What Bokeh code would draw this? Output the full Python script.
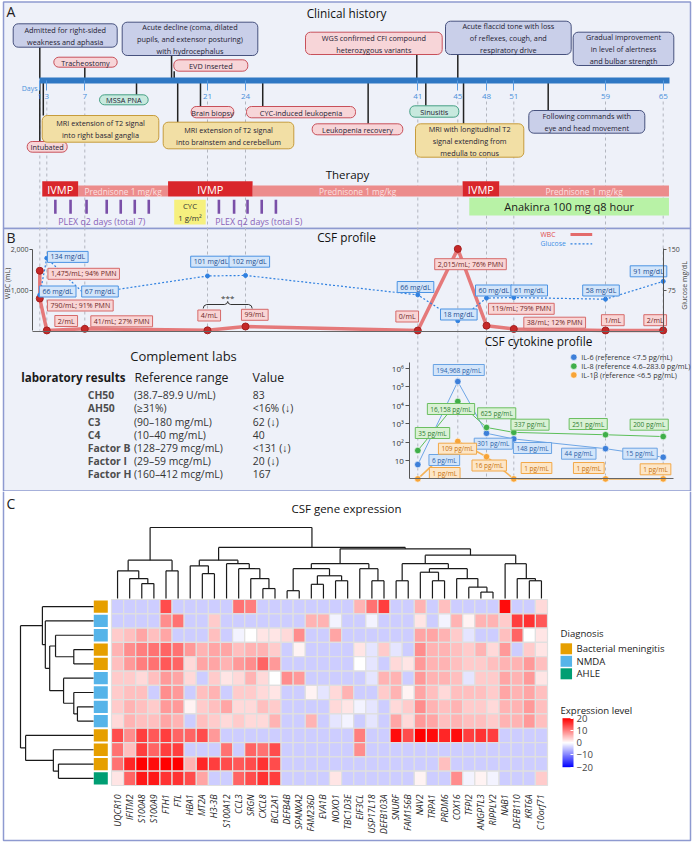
import numpy as np
from bokeh.plotting import figure
from bokeh.models import (Range1d, LinearAxis, LogScale, FixedTicker, NumeralTickFormatter,
                          LinearColorMapper, ColorBar, ColumnDataSource)
from bokeh.layouts import column
from bokeh.embed import file_html
from bokeh.resources import INLINE
from bokeh.core.properties import value

FONT = "Open Sans"

# ============================ DATA ============================
TICK_DAYS = [1, 3, 7, 21, 24, 41, 45, 48, 51, 59, 65]

EVENT_TEXT = [
    "Admitted for right-sided\nweakness and aphasia",
    "Acute decline (coma, dilated\npupils, and extensor posturing)\nwith hydrocephalus",
    "Tracheostomy",
    "EVD inserted",
    "WGS confirmed CFI compound\nheterozygous variants",
    "Acute flaccid tone with loss\nof reflexes, cough, and\nrespiratory drive",
    "Gradual improvement\nin level of alertness\nand bulbar strength",
    "Intubated",
    "MRI extension of T2 signal\ninto right basal ganglia",
    "MSSA PNA",
    "Brain biopsy",
    "MRI extension of T2 signal\ninto brainstem and cerebellum",
    "CYC-induced leukopenia",
    "Leukopenia recovery",
    "Sinusitis",
    "MRI with longitudinal T2\nsignal extending from\nmedulla to conus",
    "Following commands with\neye and head movement",
]
EVENT_DAY = [1, 16.9, 7, 17.2, 40.9, 45, None, 1, 2, 12.9, 20.2, 17.6, 25.7, 36.1, 41.8, 45.6, 54]
EVENT_KIND = ["clinical", "clinical", "procedure", "procedure", "procedure", "clinical", "clinical",
              "procedure", "imaging", "infection", "procedure", "imaging", "procedure", "procedure",
              "infection", "imaging", "clinical"]

IVMP_START = [1.7, 16.5, 45.5]
IVMP_END = [6.3, 24.7, 49.4]
PRED_START = [6.3, 24.7, 49.4]
PRED_END = [16.5, 45.5, 65.6]
ANAKINRA = [46.2, 65.6]
CYC = [17.2, 20.8]
PLEX_1 = [3.9, 5.5, 7.2, 9.5, 11.1, 12.7, 14.3]
PLEX_2 = [21.9, 23.1, 24.2, 25.6, 27.0]

WBC_DAY = [1, 1, 3, 7, 21, 24, 41, 45, 48, 51, 59, 65]
WBC = [1475, 790, 2, 41, 4, 99, 0, 2015, 119, 38, 1, 2]
WBC_LABEL = ["1,475/mL; 94% PMN", "790/mL; 91% PMN", "2/mL", "41/mL; 27% PMN", "4/mL", "99/mL",
             "0/mL", "2,015/mL; 76% PMN", "119/mL; 79% PMN", "38/mL; 12% PMN", "1/mL", "2/mL"]
GLU_DAY = [1, 3, 7, 21, 24, 41, 45, 48, 51, 59, 65]
GLU = [66, 134, 67, 101, 102, 66, 18, 60, 61, 58, 91]

CYTO_DAY = [41, 45, 48, 51, 59, 65]
IL6 = [6, 194968, 301, 148, 44, 15]
IL8 = [35, 16158, 625, 337, 251, 200]
IL1B = [1, 109, 16, 1, 1, 1]
CYTO_NAMES = ["IL-6 (reference <7.5 pg/mL)", "IL-8 (reference 4.6\u2013283.0 pg/mL)",
              "IL-1\u03b2 (reference <6.5 pg/mL)"]

COMP_NAMES = ["CH50", "AH50", "C3", "C4", "Factor B", "Factor I", "Factor H"]
COMP_RANGES = ["(38.7\u201389.9 U/mL)", "(\u226531%)", "(90\u2013180 mg/mL)", "(10\u201340 mg/mL)",
               "(128\u2013279 mcg/mL)", "(29\u201359 mcg/mL)", "(160\u2013412 mcg/mL)"]
COMP_VALUES = ["83", "<16% (\u2193)", "62 (\u2193)", "40", "<131 (\u2193)", "20 (\u2193)", "167"]

GENES = ["UQCR10", "IFITM2", "S100A8", "S100A9", "FTH1", "FTL", "HBA1", "MT2A", "H3-3B", "S100A12",
         "CCL3", "SRGN", "CXCL8", "BCL2A1", "DEFB4B", "SPANXA2", "FAM236D", "EVA1B", "NOXO1",
         "TBC1D3E", "EIF3CL", "USP17L18", "DEFB103A", "SNURF", "FAM156B", "NAV2", "TRPA1", "PRDM6",
         "COX16", "TFPI2", "ANGPTL3", "RIPPLY2", "NAB1", "DEFB110", "KRT6A", "C10orf71"]
DIAGNOSIS = ["Bacterial meningitis", "NMDA", "NMDA", "Bacterial meningitis", "Bacterial meningitis",
             "NMDA", "NMDA", "NMDA", "NMDA", "Bacterial meningitis", "Bacterial meningitis",
             "Bacterial meningitis", "AHLE"]
DIAG_NAMES = ["Bacterial meningitis", "NMDA", "AHLE"]
DIAG_COLORS = ["#e69f00", "#56b4e9", "#009e73"]

L = -4
EXPR = [
    [L, L, L, L, 14, L, L, L, L, L, 11, 10, L, L, L, L, L, L, L, L, 6, 11, 15, L, L, 6, L, 5, L, L, L, L, 19, L, L, 3],
    [L, L, L, L, 9, 11, L, L, 4, L, L, L, L, L, L, L, 6, 6, -1, L, L, -1, L, L, L, 2, L, -1, 6, 1, 6, 6, 4, 15, 16, 13],
    [4, 5, 7, 5, 7, L, L, L, 5, L, -1, 0, 2, 2, 3, 9, L, L, 7, L, L, L, L, L, L, 7, 7, 6, 4, -2, L, L, 5, 12, 0, 2],
    [6, 9, 10, 11, 12, 11, 8, 6, 7, 7, 5, 6, 6, 4, L, 1, L, L, L, L, 2, -2, 4, -2, L, 9, 6, 6, 5, 4, 6, 3, 8, L, 4, 2],
    [5, 8, 10, 11, 13, 12, 3, 7, 7, 6, 8, 9, 12, 8, L, L, L, L, L, L, 0, -2, L, 3, 2, 8, 6, 6, 5, 4, 4, 5, 6, 6, 8, 5],
    [4, 4, 3, 5, 8, 7, 3, L, 4, 2, 3, 6, 3, 0, 9, 8, L, L, L, L, L, -2, 6, 6, L, 8, 6, 6, 5, -2, 4, 4, 7, 6, 8, 2],
    [4, 5, 5, L, 9, 8, L, 5, 6, L, 4, 4, 3, 2, L, L, 1, -2, 3, 6, L, L, 4, 6, 1, 7, 5, 3, 5, 5, 5, 4, 7, 6, 7, 5],
    [4, 6, 5, 4, 8, 8, 1, 4, 5, 7, 3, 3, 5, 4, L, L, L, L, 3, 2, -1, -2, L, 3, 4, 9, 6, 5, 6, 4, 4, 3, 6, 6, 8, 5],
    [3, 6, 5, 5, 7, 6, L, 5, 4, 3, 4, 3, 3, 6, L, L, 6, L, -2, -1, L, -2, L, 7, 3, 8, 7, 5, 6, 5, 5, 4, 6, 6, 8, 5],
    [14, 9, 15, 13, 15, 12, 12, 14, 8, L, L, L, L, L, L, L, L, L, L, L, 10, L, L, 19, 14, 20, 19, 17, 19, 15, 16, 15, L, L, L, L],
    [11, 5, 15, 12, 15, 15, L, L, L, 11, L, 12, 11, 14, L, L, L, L, L, L, 9, L, L, L, L, L, L, L, L, L, L, L, L, L, L, L],
    [11, 17, 20, 19, 20, 20, 6, 17, 15, 14, 13, 14, 16, 14, L, L, L, L, L, L, L, L, L, L, L, L, L, 5, L, L, L, L, L, L, L, L],
    [2, 12, 18, 18, 16, 16, 14, 7, L, L, 12, 14, 16, 15, L, L, L, L, 2, L, L, L, L, L, L, 1, L, L, 9, -1, 1, -1, L, L, L, 4],
]


def N(h, a, b):
    return (h, a, b)


COL_TREE = N(10.0,
             N(5.4, N(3.9, 0, N(2.8, 1, N(2.1, 2, 3))), N(3.9, 4, 5)),
             N(7.2,
               N(5.4, N(4.6, 6, N(3.5, 7, 8)), N(4.9, 9, N(4.2, 10, N(2.8, 11, N(1.4, 12, 13))))),
               N(7.0,
                 N(4.9, N(4.2, N(1.1, 14, 15), N(3.2, N(2.0, 16, 17), N(2.5, 18, 19))),
                   N(4.2, 20, N(2.5, 21, 22))),
                 N(6.1,
                   N(4.9, N(2.5, 23, 24),
                     N(4.2, N(3.7, 25, N(2.5, 26, 27)), N(2.8, 28, N(1.6, 29, N(0.9, 30, 31))))),
                   N(4.9, 32, N(2.8, 33, N(2.5, 34, 35)))))))
ROW_TREE = N(10.0,
             N(7.0, 0, N(6.6, 1, N(6.0, N(5.2, 2, N(2.7, 3, 4)), N(4.1, 5, N(2.7, 6, N(2.2, 7, 8)))))),
             N(9.3, 9, N(5.5, 10, N(4.8, 11, 12))))

# ============================ LAYOUT / STYLE ============================
PAGE_W, PAGE_H = 693, 845
TICK_POS = [39.3, 46.3, 84.3, 207.0, 245.0, 417.3, 457.3, 486.0, 513.3, 605.0, 662.7]
BAR_Y = 80
EVENT_BOX = [(12.7, 116.7, 23.3, 46.7), (121.7, 257.3, 21.7, 55), (53.3, 116.7, 56.7, 66.7),
             (173.3, 247.3, 59.3, 70.7), (305, 441.7, 31.7, 54), (445, 570.7, 20.7, 54),
             (572.7, 673.3, 31.7, 65), (26.7, 66.7, 141, 151.7), (41.7, 158.3, 115, 141.7),
             (99, 147.7, 94.3, 104.3), (190.7, 233.3, 106, 117.3), (162.7, 293.3, 121.7, 148.3),
             (246, 355, 106, 117.3), (311.7, 402.3, 123.3, 134.3), (409.3, 458.3, 105.3, 116.7),
             (415, 523.3, 123.3, 156.7), (528.3, 644.3, 110, 132.7)]
KIND_STYLE = {"clinical": ("#c9cfe9", "#47527e"), "procedure": ("#f7d5d8", "#c8505a"),
              "infection": ("#c7e9de", "#46a085"), "imaging": ("#f2dfa5", "#c69c3c")}

WBC_LABEL_XY = [(83.2, 273.3), (79.8, 305), (65.7, 320.5), (121.2, 320.8), (208.7, 315), (254.3, 314.3),
                (406.7, 316), (470, 263.7), (520.8, 308.3), (554.2, 322.2), (612.3, 319.7), (654.7, 319.7)]
GLU_LABEL_XY = [(57.2, 291), (67.3, 256.4), (99.5, 291), (210.5, 261.2), (248.8, 261.2), (415, 286.5),
                (458.3, 314), (493.3, 290), (528.7, 290), (600.5, 290), (648, 270.8)]
IL6_LABEL_XY = [(443.8, 459.5), (458.3, 369.5), (492.8, 443.2), (532, 447.5), (578.3, 453.2), (639.5, 453.2)]
IL8_LABEL_XY = [(432, 432.5), (450.5, 408.5), (496.2, 412.8), (529.5, 424.2), (587.7, 423.5), (648.7, 424.2)]
IL1B_LABEL_XY = [(444.2, 472.5), (457, 448.2), (488.7, 465), (536, 467.5), (588.3, 467.5), (655, 468.8)]

BG = "#eef1f9"
BORDER = "#8e9ad0"


def dpos(d):
    arr = np.asarray(d, dtype=float)
    p = np.interp(arr, TICK_DAYS, TICK_POS)
    slope = (TICK_POS[-1] - TICK_POS[-2]) / (TICK_DAYS[-1] - TICK_DAYS[-2])
    p = np.where(arr > TICK_DAYS[-1], TICK_POS[-1] + (arr - TICK_DAYS[-1]) * slope, p)
    if np.ndim(p) == 0:
        return float(p)
    return [float(v) for v in p]


def as_list(v):
    if isinstance(v, (list, tuple, np.ndarray)):
        return [float(a) for a in v]
    return [float(v)]


def txt(p, x, y, s, size, color="#222222", align="left", baseline="middle", style="normal",
        angle=0.0, **kw):
    xs, ys = as_list(x), as_list(y)
    ss = [s] if isinstance(s, str) else list(s)
    n = max(len(xs), len(ys), len(ss))
    if len(xs) == 1:
        xs = xs * n
    if len(ys) == 1:
        ys = ys * n
    if len(ss) == 1:
        ss = ss * n
    return p.text(x=xs, y=ys, text=ss, text_font=value(FONT), text_font_size=f"{size}px",
                  text_color=color, text_align=align, text_baseline=baseline,
                  text_font_style=style, angle=angle, **kw)


def qbox(p, x0, x1, y0, y1, fill, line, radius=4, lw=1.0, **kw):
    try:
        p.quad(left=x0, right=x1, bottom=y1, top=y0, fill_color=fill, line_color=line,
               line_width=lw, border_radius=radius, **kw)
    except Exception:
        p.quad(left=x0, right=x1, bottom=y1, top=y0, fill_color=fill, line_color=line,
               line_width=lw, **kw)


def boxed(p, xy, texts, size, fill, line, color, **kw):
    xs = [a for a, b in xy]
    ys = [b for a, b in xy]
    try:
        p.text(x=xs, y=ys, text=texts, text_font=value(FONT), text_font_size=f"{size}px",
               text_color=color, text_align="center", text_baseline="middle",
               background_fill_color=fill, border_line_color=line, border_line_width=1,
               padding=(3, 1), **kw)
    except Exception:
        w = [len(t) * size * 0.52 + 6 for t in texts]
        h = size * 1.2 + 2
        p.quad(left=[x - wi / 2 for x, wi in zip(xs, w)], right=[x + wi / 2 for x, wi in zip(xs, w)],
               bottom=[y + h / 2 for y in ys], top=[y - h / 2 for y in ys],
               fill_color=fill, line_color=line, **kw)
        txt(p, xs, ys, texts, size, color=color, align="center", **kw)


# ============================ PANELS A + B ============================
P1_H = 491
p1 = figure(width=PAGE_W, height=P1_H, x_range=Range1d(0, PAGE_W), y_range=Range1d(P1_H, 0),
            output_backend="svg", toolbar_location=None, x_axis_location=None, y_axis_location=None,
            min_border_left=0, min_border_right=0, min_border_top=0, min_border_bottom=0,
            background_fill_color="white", border_fill_color="white")
p1.outline_line_color = None
p1.grid.grid_line_color = None

WBC_ZERO_Y, WBC_2000_Y = 330.0, 249.0
wpx = (WBC_ZERO_Y - WBC_2000_Y) / 2000.0
gpx = (WBC_ZERO_Y - WBC_2000_Y) / 150.0
CYTO_ONE_Y, DECADE_PX = 478.4, 18.4
p1.extra_y_ranges = {
    "wbc": Range1d((WBC_ZERO_Y - P1_H) / wpx, WBC_ZERO_Y / wpx),
    "glu": Range1d((WBC_ZERO_Y - P1_H) / gpx, WBC_ZERO_Y / gpx),
    "cyto": Range1d(10 ** ((CYTO_ONE_Y - P1_H) / DECADE_PX), 10 ** (CYTO_ONE_Y / DECADE_PX)),
}
p1.extra_y_scales = {"cyto": LogScale()}

# panel frames
p1.quad(left=[3, 3], right=[690, 690], top=[1.5, 228], bottom=[228, 490.5],
        fill_color=BG, line_color=BORDER, line_width=1.5)

# dashed day guides
tick_x = dpos(TICK_DAYS)
p1.segment(x0=tick_x, y0=[101] * len(tick_x), x1=tick_x,
           y1=[478.4 if d >= 41 else 330 for d in TICK_DAYS],
           line_color="#b3b6bf", line_width=1, line_dash="3 3")

txt(p1, 6, 11, "A", 14)
txt(p1, 346, 12, "Clinical history", 11.8, align="center", color="#111111")
txt(p1, 37, 88, "Days", 7, align="right", color="#4a90d9")

# connectors
cx0, cy0, cx1, cy1 = [], [], [], []
for i, d in enumerate(EVENT_DAY):
    if d is None:
        continue
    x0, x1, y0, y1 = EVENT_BOX[i]
    xd = dpos(d)
    if y1 < BAR_Y:
        cx0.append(xd); cy0.append(y1); cx1.append(xd); cy1.append(BAR_Y - 2)
    else:
        cx0.append(xd); cy0.append(BAR_Y + 2); cx1.append(xd); cy1.append(y0)
p1.segment(x0=cx0, y0=cy0, x1=cx1, y1=cy1, line_color="#222222", line_width=1.5)

for i, t in enumerate(EVENT_TEXT):
    x0, x1, y0, y1 = EVENT_BOX[i]
    fill, line = KIND_STYLE[EVENT_KIND[i]]
    qbox(p1, [x0], [x1], [y0], [y1], fill, line, radius=5, lw=1.0)
    txt(p1, (x0 + x1) / 2, (y0 + y1) / 2 + 0.5, t, 7.3, color="#1f2233", align="center")

# timeline axis (the blue bar)
tl = LinearAxis(fixed_location=BAR_Y, bounds=(TICK_POS[0], dpos(65.65)),
                ticker=FixedTicker(ticks=tick_x),
                major_label_overrides={x: str(d) for x, d in zip(tick_x, TICK_DAYS)},
                axis_line_color="#2f78c4", axis_line_width=6, major_tick_in=0, major_tick_out=10,
                major_tick_line_color="#5a9be0", major_tick_line_width=1,
                minor_tick_line_color=None, major_label_standoff=3,
                major_label_text_font=FONT, major_label_text_font_size="8px",
                major_label_text_color="#4a90d9")
p1.add_layout(tl, "below")

# therapy
txt(p1, 347, 174, "Therapy", 11.5, align="center", color="#111111")
p1.quad(left=dpos(PRED_START), right=dpos(PRED_END), top=[185] * 3, bottom=[196] * 3,
        fill_color="#ec8c8c", line_color=None)
p1.quad(left=dpos(IVMP_START), right=dpos(IVMP_END), top=[180.7] * 3, bottom=[196] * 3,
        fill_color="#d9262b", line_color=None)
txt(p1, [(a + b) / 2 for a, b in zip(dpos(IVMP_START), dpos(IVMP_END))], 188.5, "IVMP", 11,
    color="white", align="center")
txt(p1, [(a + b) / 2 for a, b in zip(dpos(PRED_START), dpos(PRED_END))], 190.7,
    "Prednisone 1 mg/kg", 8.3, color="#fbe1e1", align="center")
p1.quad(left=[dpos(ANAKINRA[0])], right=[dpos(ANAKINRA[1])], top=[197.3], bottom=[215],
        fill_color="#b8f2a6", line_color=None)
txt(p1, (dpos(ANAKINRA[0]) + dpos(ANAKINRA[1])) / 2, 206.3, "Anakinra 100 mg q8 hour", 11,
    align="center", color="#1a1a1a")
plex = dpos(PLEX_1 + PLEX_2)
p1.segment(x0=plex, y0=[199.3] * len(plex), x1=plex, y1=[213.3] * len(plex),
           line_color="#7a4fa8", line_width=2.6)
txt(p1, [57.8, 214.7], 221.8, ["PLEX q2 days (total 7)", "PLEX q2 days (total 5)"], 8.8,
    color="#8a62b8")
p1.quad(left=[dpos(CYC[0])], right=[dpos(CYC[1])], top=[199.3], bottom=[224],
        fill_color="#f6f07e", line_color=None)
txt(p1, (dpos(CYC[0]) + dpos(CYC[1])) / 2, 211.8, "CYC\n1 g/m\u00b2", 7.8, align="center",
    color="#333333")

# ---------------- panel B : CSF profile ----------------
txt(p1, 6, 237, "B", 14)
txt(p1, 346, 236.5, "CSF profile", 11.8, align="center", color="#111111")

p1.line(x=dpos(WBC_DAY), y=WBC, y_range_name="wbc", line_color="#e36b6b", line_width=3.5,
        line_alpha=0.9)
p1.scatter(x=dpos(WBC_DAY), y=WBC, y_range_name="wbc", size=7, marker="circle",
           fill_color="#c62828", line_color="#a31f1f")
p1.line(x=dpos(GLU_DAY), y=GLU, y_range_name="glu", line_color="#2f80e0", line_width=1.2,
        line_dash="2 2")
p1.scatter(x=dpos(GLU_DAY), y=GLU, y_range_name="glu", size=4, marker="circle",
           fill_color="#2f80e0", line_color="#2f80e0")

boxed(p1, WBC_LABEL_XY, WBC_LABEL, 7, "#f9d5d5", "#d66a6a", "#6e1f1f")
boxed(p1, GLU_LABEL_XY, [f"{g} mg/dL" for g in GLU], 7, "#d3e5fa", "#4b93e3", "#1d4f91")

# brace with ***
bx = [202.7, 203.6, 206.2, 224.2, 226.4, 227.2, 228.0, 230.2, 248.2, 250.8, 251.7]
by = [308.0, 305.3, 304.0, 304.0, 303.0, 301.0, 303.0, 304.0, 304.0, 305.3, 308.0]
p1.line(x=bx, y=by, line_color="#333333", line_width=1)
txt(p1, 227.2, 296.8, "***", 8, align="center", color="#333333")

# legend of the CSF profile
txt(p1, 540, 234, "WBC", 6.8, color="#e04848")
txt(p1, 540, 243.3, "Glucose", 6.8, color="#3a8ee6")
p1.segment(x0=[570], y0=[234], x1=[591.7], y1=[234], line_color="#e36b6b", line_width=3)
p1.segment(x0=[570], y0=[243.3], x1=[591.7], y1=[243.3], line_color="#2f80e0", line_width=1.2,
           line_dash="2 2")

# axes of the CSF profile
ax_w = LinearAxis(y_range_name="wbc", fixed_location=32, bounds=(0, 2000),
                  ticker=FixedTicker(ticks=[1000, 2000]), formatter=NumeralTickFormatter(format="0,0"),
                  major_tick_in=0, major_tick_out=3, minor_tick_line_color=None,
                  axis_line_color="#555555", major_tick_line_color="#555555",
                  major_label_standoff=1, major_label_text_font=FONT,
                  major_label_text_font_size="7px", major_label_text_color="#444444")
p1.add_layout(ax_w, "left")
ax_g = LinearAxis(y_range_name="glu", fixed_location=663.3, bounds=(0, 152),
                  ticker=FixedTicker(ticks=[75, 150]),
                  major_tick_in=0, major_tick_out=3, minor_tick_line_color=None,
                  axis_line_color="#555555", major_tick_line_color="#555555",
                  major_label_standoff=1, major_label_text_font=FONT,
                  major_label_text_font_size="7px", major_label_text_color="#444444")
p1.add_layout(ax_g, "right")
ax_b = LinearAxis(fixed_location=330.5, bounds=(32, 663.3), ticker=FixedTicker(ticks=[]),
                  axis_line_color="#666666", major_tick_line_color=None, minor_tick_line_color=None,
                  major_label_text_font_size="0px")
p1.add_layout(ax_b, "below")
txt(p1, 7, 283, "WBC (mL)", 7, color="#444444", align="center", angle=np.pi / 2)
txt(p1, 684, 285, "Glucose mg/dL", 7, color="#444444", align="center", angle=np.pi / 2)

# ---------------- complement labs ----------------
txt(p1, 183, 355.7, "Complement labs", 13, align="center", color="#1a1a1a")
txt(p1, 20.7, 376.7, "laboratory results", 11.6, style="bold", color="#1a1a1a")
txt(p1, 134, 376.7, "Reference range", 12.3, color="#1a1a1a")
txt(p1, 252, 376.7, "Value", 12.3, color="#1a1a1a")
row_y = [394.6 + 13.2 * i for i in range(len(COMP_NAMES))]
txt(p1, 87.3, row_y, COMP_NAMES, 10.4, style="bold", color="#4d4d4d")
txt(p1, 133.5, row_y, COMP_RANGES, 10.4, color="#333333")
txt(p1, 252.3, row_y, COMP_VALUES, 10.4, color="#333333")

# ---------------- cytokine profile ----------------
txt(p1, 538, 340, "CSF cytokine profile", 11.8, align="center", color="#111111")
cyto_x = dpos(CYTO_DAY)
series = [(IL6, "#3d7fd9", "#6ea6e6", 1.0), (IL8, "#3fae49", "#5cbf5a", 1.0),
          (IL1B, "#f7a437", "#f5b256", 1.6)]
for vals, col, lcol, lw in series:
    p1.line(x=cyto_x, y=vals, y_range_name="cyto", line_color=lcol, line_width=lw)
for vals, col, lcol, lw in series:
    p1.scatter(x=cyto_x, y=vals, y_range_name="cyto", size=6.5, marker="circle",
               fill_color=col, line_color="#ffffff", line_width=0.6)
boxed(p1, IL6_LABEL_XY, [f"{v:,} pg/mL" for v in IL6], 6.5, "#d3e5fa", "#6aa3e3", "#2a5fa8")
boxed(p1, IL8_LABEL_XY, [f"{v:,} pg/mL" for v in IL8], 6.5, "#d9f1d4", "#6cbf62", "#2e7d32")
boxed(p1, IL1B_LABEL_XY, [f"{v:,} pg/mL" for v in IL1B], 6.5, "#fde6c7", "#f2a848", "#c8720c")
leg_y = [356.7, 365.7, 374.5]
p1.scatter(x=[573.3] * 3, y=leg_y, size=6.5, marker="circle",
           fill_color=[s[1] for s in series], line_color="#ffffff", line_width=0.6)
txt(p1, 580.7, leg_y, CYTO_NAMES, 7.3, color="#333333")

cyto_ticks = [10, 100, 1000, 10000, 100000, 1000000]
cyto_lbl = {10: "10", 100: "10\u00b2", 1000: "10\u00b3", 10000: "10\u2074", 100000: "10\u2075",
            1000000: "10\u2076"}
ax_c = LinearAxis(y_range_name="cyto", fixed_location=409.3, bounds=(1, 2.2e6),
                  ticker=FixedTicker(ticks=cyto_ticks), major_label_overrides=cyto_lbl,
                  major_tick_in=0, major_tick_out=4, minor_tick_line_color=None,
                  axis_line_color="#555555", major_tick_line_color="#555555",
                  major_label_standoff=2, major_label_text_font=FONT,
                  major_label_text_font_size="8px", major_label_text_color="#333333")
p1.add_layout(ax_c, "left")
ax_cb = LinearAxis(fixed_location=CYTO_ONE_Y, bounds=(409.3, 673), ticker=FixedTicker(ticks=[]),
                   axis_line_color="#666666", major_tick_line_color=None, minor_tick_line_color=None,
                   major_label_text_font_size="0px")
p1.add_layout(ax_cb, "below")

# ============================ PANEL C ============================
HM_L, HM_R, HM_T, HM_B = 111.0, 547.0, 599.0, 785.0
NCOL, NROW = len(GENES), len(DIAGNOSIS)
CW = (HM_R - HM_L) / NCOL
RH = (HM_B - HM_T) / NROW
RD_ZERO, RD_PX = 93.0, 7.3
CD_ZERO, CD_PX = 598.0, 7.1
P2_TOP = 491.0
P2_H = PAGE_H - 491

p2 = figure(width=PAGE_W, height=P2_H,
            x_range=Range1d((0 - HM_L) / CW, (PAGE_W - HM_L) / CW),
            y_range=Range1d(-(PAGE_H - HM_B) / RH, NROW + (HM_T - P2_TOP) / RH),
            output_backend="svg", toolbar_location=None, x_axis_location=None, y_axis_location=None,
            min_border_left=0, min_border_right=0, min_border_top=0, min_border_bottom=0,
            background_fill_color="white", border_fill_color="white")
p2.outline_line_color = None
p2.grid.grid_line_color = None
p2.extra_x_ranges = {"rd": Range1d(RD_ZERO / RD_PX, (RD_ZERO - PAGE_W) / RD_PX),
                     "px": Range1d(0, PAGE_W)}
p2.extra_y_ranges = {"cd": Range1d((CD_ZERO - PAGE_H) / CD_PX, (CD_ZERO - P2_TOP) / CD_PX),
                     "pxy": Range1d(PAGE_H, P2_TOP)}

p2.line(x=[3, 3, 690, 690], y=[P2_TOP, 840, 840, P2_TOP], x_range_name="px", y_range_name="pxy",
        line_color=BORDER, line_width=1.5)
txt(p2, 6, 503, "C", 14, x_range_name="px", y_range_name="pxy")
txt(p2, 346, 508, "CSF gene expression", 11.5, align="center", color="#111111",
    x_range_name="px", y_range_name="pxy")


def palette_bwr(n=255):
    out = []
    for t in np.linspace(-1, 1, n):
        if t < 0:
            c = int(round(255 * (1 + t)))
            out.append("#%02x%02x%02x" % (c, c, 255))
        else:
            c = int(round(255 * (1 - t)))
            out.append("#%02x%02x%02x" % (255, c, c))
    return out


mapper = LinearColorMapper(palette=palette_bwr(), low=-20, high=20)
hx, hy, hv = [], [], []
for r, rowv in enumerate(EXPR):
    for c, v in enumerate(rowv):
        hx.append(c + 0.5)
        hy.append(NROW - r - 0.5)
        hv.append(v)
hsrc = ColumnDataSource(dict(x=hx, y=hy, v=hv))
p2.rect(x="x", y="y", width=1, height=1, source=hsrc,
        fill_color={"field": "v", "transform": mapper}, line_color="#e0e0e0", line_width=1.2)

# diagnosis annotation column
ann_l, ann_r = 93.3, 107.3
p2.rect(x=[((ann_l + ann_r) / 2 - HM_L) / CW] * NROW, y=[NROW - r - 0.5 for r in range(NROW)],
        width=(ann_r - ann_l) / CW, height=0.86,
        fill_color=[DIAG_COLORS[DIAG_NAMES.index(d)] for d in DIAGNOSIS], line_color=None)


def tree_segments(tree, leaf_pos):
    segs = []

    def rec(t):
        if isinstance(t, int):
            return leaf_pos(t), 0.0
        h, a, b = t
        pa, ha = rec(a)
        pb, hb = rec(b)
        segs.append((pa, ha, pa, h))
        segs.append((pb, hb, pb, h))
        segs.append((pa, h, pb, h))
        return (pa + pb) / 2.0, h

    rec(tree)
    return segs


cs = tree_segments(COL_TREE, lambda i: i + 0.5)
p2.segment(x0=[s[0] for s in cs], y0=[s[1] for s in cs], x1=[s[2] for s in cs],
           y1=[s[3] for s in cs], y_range_name="cd", line_color="#1a1a1a", line_width=1.2)
rs = tree_segments(ROW_TREE, lambda r: NROW - r - 0.5)
p2.segment(x0=[s[1] for s in rs], y0=[s[0] for s in rs], x1=[s[3] for s in rs],
           y1=[s[2] for s in rs], x_range_name="rd", line_color="#1a1a1a", line_width=1.2)

# gene labels axis (drawn at the lower edge of the heatmap)
gax = LinearAxis(fixed_location=0, bounds=(0, NCOL),
                 ticker=FixedTicker(ticks=[i + 0.5 for i in range(NCOL)]),
                 major_label_overrides={i + 0.5: g for i, g in enumerate(GENES)},
                 major_label_orientation=np.pi / 2, axis_line_color=None,
                 major_tick_line_color=None, minor_tick_line_color=None, major_label_standoff=3,
                 major_label_text_font=FONT, major_label_text_font_size="8.8px",
                 major_label_text_font_style="italic", major_label_text_color="#222222")
p2.add_layout(gax, "below")

# diagnosis legend
txt(p2, 560, 633.3, "Diagnosis", 9.6, x_range_name="px", y_range_name="pxy")
leg_yc = [648.3, 660.8, 673.3]
p2.rect(x=[565.8] * 3, y=leg_yc, width=11.5, height=11, fill_color=DIAG_COLORS, line_color=None,
        x_range_name="px", y_range_name="pxy")
txt(p2, 576, leg_yc, DIAG_NAMES, 9.6, x_range_name="px", y_range_name="pxy")

txt(p2, 560, 709.5, "Expression level", 9.6, x_range_name="px", y_range_name="pxy")
cb = ColorBar(color_mapper=mapper, ticker=FixedTicker(ticks=[-20, -10, 0, 10, 20]),
              major_label_overrides={-20: "\u221220", -10: "\u221210", 0: "0", 10: "10", 20: "20"},
              width=11, height=49, location=(562, PAGE_H - 766.7), padding=0, margin=0,
              major_label_text_font=FONT, major_label_text_font_size="9.6px",
              label_standoff=3, major_tick_line_color="white", major_tick_in=3, major_tick_out=0,
              minor_tick_line_color=None, bar_line_color=None, background_fill_color=None,
              border_line_color=None)
p2.add_layout(cb)

layout = column(p1, p2)
open("out.html", "w").write(file_html(layout, INLINE))
